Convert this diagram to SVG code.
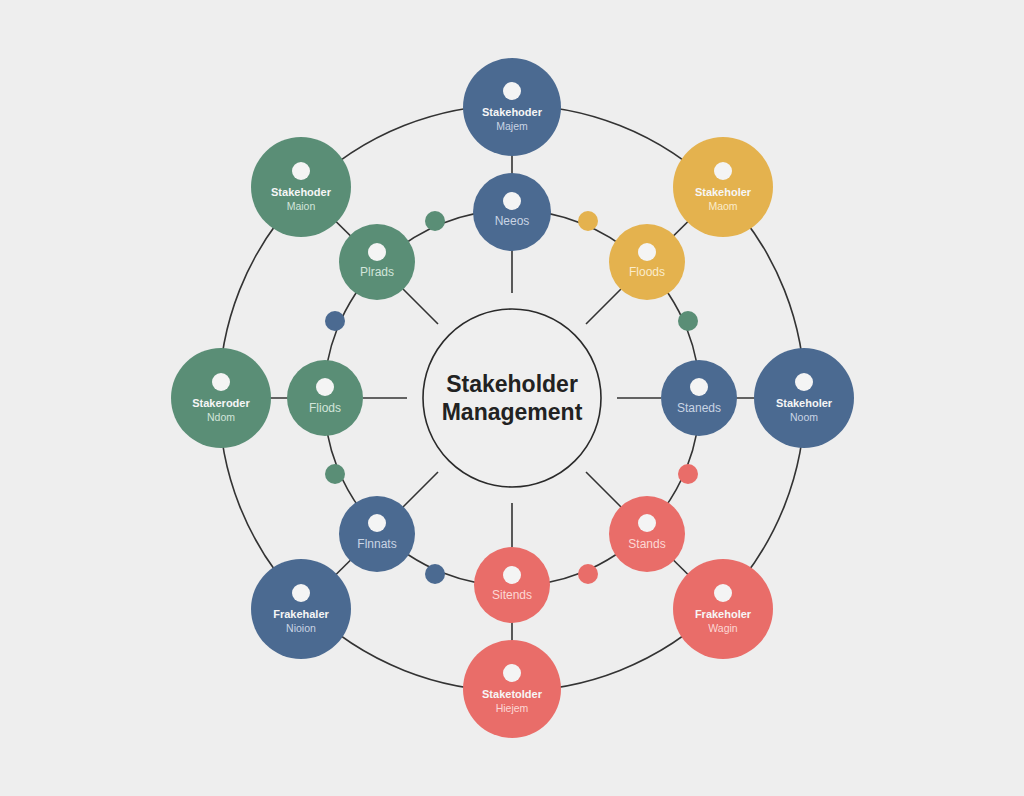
<svg xmlns="http://www.w3.org/2000/svg" width="1024" height="796" viewBox="0 0 1024 796">
<style>
.ring{fill:none;stroke:#333;stroke-width:1.6}
.ln{stroke:#333;stroke-width:1.6;fill:none}
.blue{fill:#4b6a91}
.green{fill:#5a8e76}
.yellow{fill:#e4b24e}
.red{fill:#e96d69}
.hole{fill:#f4f4f4}
.t1{font-family:"Liberation Sans",Arial,sans-serif;font-size:11px;font-weight:bold;fill:#f6f6f6;text-anchor:middle}
.t2{font-family:"Liberation Sans",Arial,sans-serif;font-size:10.5px;text-anchor:middle}
.ti{font-family:"Liberation Sans",Arial,sans-serif;font-size:12px;text-anchor:middle}
.cb{fill:#c9d4e4}.cg{fill:#d2e5da}.cy{fill:#fbeccb}.cr{fill:#fcd8d5}
.title{font-family:"Liberation Sans",Arial,sans-serif;font-size:23px;font-weight:bold;fill:#222;text-anchor:middle}
</style>
<rect width="1024" height="796" fill="#eeeeee"/>
<g id="connectors">
<circle class="ring" cx="512" cy="398" r="293"/>
<circle class="ring" cx="512" cy="398" r="188"/>
<line class="ln" x1="512" y1="107" x2="512" y2="212"/>
<line class="ln" x1="723" y1="187" x2="647" y2="262"/>
<line class="ln" x1="804" y1="398" x2="699" y2="398"/>
<line class="ln" x1="723" y1="609" x2="647" y2="534"/>
<line class="ln" x1="512" y1="689" x2="512" y2="585"/>
<line class="ln" x1="301" y1="609" x2="377" y2="534"/>
<line class="ln" x1="221" y1="398" x2="325" y2="398"/>
<line class="ln" x1="301" y1="187" x2="377" y2="262"/>
<line class="ln" x1="512" y1="293" x2="512" y2="250"/>
<line class="ln" x1="586" y1="324" x2="621" y2="289"/>
<line class="ln" x1="617" y1="398" x2="661" y2="398"/>
<line class="ln" x1="586" y1="472" x2="621" y2="507"/>
<line class="ln" x1="512" y1="503" x2="512" y2="547"/>
<line class="ln" x1="438" y1="472" x2="403" y2="507"/>
<line class="ln" x1="407" y1="398" x2="363" y2="398"/>
<line class="ln" x1="438" y1="324" x2="403" y2="289"/>
</g>
<g id="center">
<circle cx="512" cy="398" r="89" fill="#efefef" stroke="#2a2a2a" stroke-width="1.6"/>
<text class="title" x="512" y="392">Stakeholder</text>
<text class="title" x="512" y="420">Management</text>
</g>
<g id="dots">
<circle class="green" cx="435" cy="221" r="10"/>
<circle class="yellow" cx="588" cy="221" r="10"/>
<circle class="green" cx="688" cy="321" r="10"/>
<circle class="red" cx="688" cy="474" r="10"/>
<circle class="red" cx="588" cy="574" r="10"/>
<circle class="blue" cx="435" cy="574" r="10"/>
<circle class="green" cx="335" cy="474" r="10"/>
<circle class="blue" cx="335" cy="321" r="10"/>
</g>
<g id="outer-top"><circle class="blue" cx="512" cy="107" r="49"/><circle class="hole" cx="512" cy="91" r="9"/><text class="t1" x="512" y="116">Stakehoder</text><text class="t2 cb" x="512" y="130">Majem</text></g>
<g id="outer-top-right"><circle class="yellow" cx="723" cy="187" r="50"/><circle class="hole" cx="723" cy="171" r="9"/><text class="t1" x="723" y="196">Stakeholer</text><text class="t2 cy" x="723" y="210">Maom</text></g>
<g id="outer-right"><circle class="blue" cx="804" cy="398" r="50"/><circle class="hole" cx="804" cy="382" r="9"/><text class="t1" x="804" y="407">Stakeholer</text><text class="t2 cb" x="804" y="421">Noom</text></g>
<g id="outer-bottom-right"><circle class="red" cx="723" cy="609" r="50"/><circle class="hole" cx="723" cy="593" r="9"/><text class="t1" x="723" y="618">Frakeholer</text><text class="t2 cr" x="723" y="632">Wagin</text></g>
<g id="outer-bottom"><circle class="red" cx="512" cy="689" r="49"/><circle class="hole" cx="512" cy="673" r="9"/><text class="t1" x="512" y="698">Staketolder</text><text class="t2 cr" x="512" y="712">Hiejem</text></g>
<g id="outer-bottom-left"><circle class="blue" cx="301" cy="609" r="50"/><circle class="hole" cx="301" cy="593" r="9"/><text class="t1" x="301" y="618">Frakehaler</text><text class="t2 cb" x="301" y="632">Nioion</text></g>
<g id="outer-left"><circle class="green" cx="221" cy="398" r="50"/><circle class="hole" cx="221" cy="382" r="9"/><text class="t1" x="221" y="407">Stakeroder</text><text class="t2 cg" x="221" y="421">Ndom</text></g>
<g id="outer-top-left"><circle class="green" cx="301" cy="187" r="50"/><circle class="hole" cx="301" cy="171" r="9"/><text class="t1" x="301" y="196">Stakehoder</text><text class="t2 cg" x="301" y="210">Maion</text></g>
<g id="inner-top"><circle class="blue" cx="512" cy="212" r="39"/><circle class="hole" cx="512" cy="201" r="9"/><text class="ti cb" x="512" y="225">Neeos</text></g>
<g id="inner-top-right"><circle class="yellow" cx="647" cy="262" r="38"/><circle class="hole" cx="647" cy="252" r="9"/><text class="ti cy" x="647" y="276">Floods</text></g>
<g id="inner-right"><circle class="blue" cx="699" cy="398" r="38"/><circle class="hole" cx="699" cy="387" r="9"/><text class="ti cb" x="699" y="412">Staneds</text></g>
<g id="inner-bottom-right"><circle class="red" cx="647" cy="534" r="38"/><circle class="hole" cx="647" cy="523" r="9"/><text class="ti cr" x="647" y="548">Stands</text></g>
<g id="inner-bottom"><circle class="red" cx="512" cy="585" r="38"/><circle class="hole" cx="512" cy="575" r="9"/><text class="ti cr" x="512" y="599">Sitends</text></g>
<g id="inner-bottom-left"><circle class="blue" cx="377" cy="534" r="38"/><circle class="hole" cx="377" cy="523" r="9"/><text class="ti cb" x="377" y="548">Flnnats</text></g>
<g id="inner-left"><circle class="green" cx="325" cy="398" r="38"/><circle class="hole" cx="325" cy="387" r="9"/><text class="ti cg" x="325" y="412">Fliods</text></g>
<g id="inner-top-left"><circle class="green" cx="377" cy="262" r="38"/><circle class="hole" cx="377" cy="252" r="9"/><text class="ti cg" x="377" y="276">Plrads</text></g>
</svg>
